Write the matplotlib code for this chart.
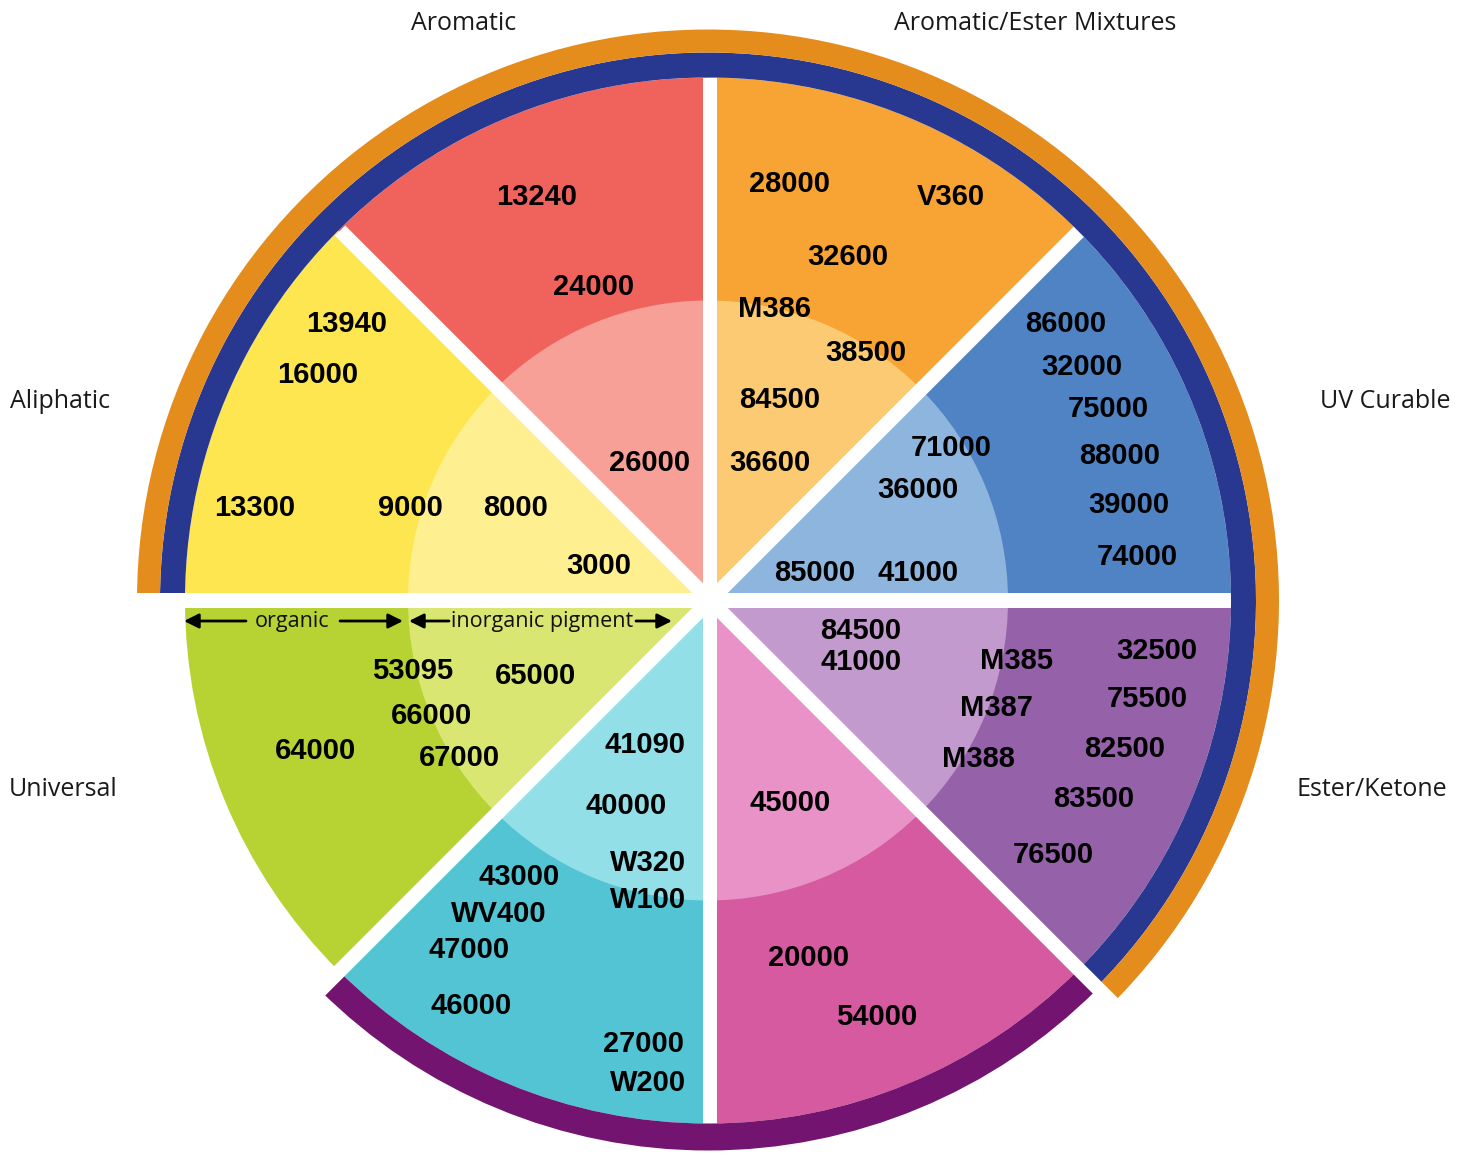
import numpy as np
import matplotlib
matplotlib.use("Agg")
import matplotlib.pyplot as plt
from matplotlib.patches import Wedge, Polygon

# sector names (clockwise from top) and their codes
sectors = ["Aromatic/Ester Mixtures", "UV Curable", "Ester/Ketone", "Water A",
           "Water B", "Universal", "Aliphatic", "Aromatic"]
sector_start = [45, 0, -45, -90, -135, 180, 135, 90]   # visual angle, deg

outer_colors = ["#F8A435", "#4F83C3", "#9561A8", "#D55A9F",
                "#52C4D3", "#B7D333", "#FEE651", "#F0635D"]
inner_colors = ["#FBCA72", "#8DB5DD", "#C39ACD", "#E892C7",
                "#92DFE8", "#D9E672", "#FEF090", "#F6A098"]

ester_mix_codes = ["28000", "V360", "32600", "M386", "38500", "84500", "36600"]
uv_codes = ["86000", "32000", "75000", "88000", "39000", "74000",
            "71000", "36000", "85000", "41000"]
ester_ketone_codes = ["84500", "41000", "M385", "32500", "75500", "M387",
                      "82500", "M388", "83500", "76500"]
pink_codes = ["45000", "20000", "54000"]
cyan_codes = ["41090", "40000", "W320", "43000", "W100", "WV400",
              "47000", "46000", "27000", "W200"]
universal_codes = ["53095", "65000", "66000", "64000", "67000"]
aliphatic_codes = ["13940", "16000", "13300", "9000", "8000", "3000"]
aromatic_codes = ["13240", "24000", "26000"]

# label positions in pixels (centre of text)
ester_mix_pos = [(789, 182), (951, 195), (848, 255), (775, 307), (866, 351),
                 (780, 398), (770, 461)]
uv_pos = [(1066, 322), (1082, 365), (1108, 407), (1120, 454), (1129, 503),
          (1137, 555), (951, 446), (918, 488), (815, 571), (918, 571)]
ester_ketone_pos = [(861, 629), (861, 660), (1016, 659), (1157, 649),
                    (1147, 697), (996, 706), (1125, 747), (978, 757),
                    (1094, 797), (1053, 853)]
pink_pos = [(790, 801), (809, 956), (877, 1015)]
cyan_pos = [(645, 743), (626, 804), (648, 861), (519, 875), (648, 898),
            (499, 912), (469, 948), (471, 1004), (643, 1042), (648, 1081)]
universal_pos = [(413, 669), (536, 674), (431, 714), (315, 749), (459, 756)]
aliphatic_pos = [(347, 322), (318, 373), (255, 506), (410, 506), (516, 506),
                 (599, 564)]
aromatic_pos = [(537, 195), (594, 285), (650, 461)]

category_labels = ["Aromatic", "Aromatic/Ester Mixtures", "Aliphatic",
                   "UV Curable", "Universal", "Ester/Ketone"]
category_pos = [(464, 20), (1035, 20), (60, 398), (1385, 398),
                (63, 787), (1372, 787)]

cx, cy = 708, 600.5
R_OUT = 523
R_IN = 300
GAP = 14.5

fig = plt.figure(figsize=(14.67, 11.56), dpi=100)
ax = fig.add_axes([0, 0, 1, 1])
ax.set_xlim(0, 1467)
ax.set_ylim(1156, 0)
ax.axis("off")


def wedge(r, a1, a2, color, width=None):
    # visual angles -> data angles (y axis is inverted)
    ax.add_patch(Wedge((cx, cy), r, -a2, -a1, width=width, facecolor=color,
                       edgecolor="none"))


def gap(ang, L):
    t = np.radians(ang)
    d = np.array([np.cos(t), -np.sin(t)])
    n = np.array([-d[1], d[0]]) * GAP / 2
    c = np.array([cx + 2, cy])
    pts = [c + n, c + L * d + n, c + L * d - n, c - n]
    ax.add_patch(Polygon(pts, closed=True, facecolor="white", edgecolor="none"))


for a, oc, ic in zip(sector_start, outer_colors, inner_colors):
    wedge(R_OUT, a, a + 45, oc)
    wedge(R_IN, a, a + 45, ic)

# white gaps between sectors
for ang in [90, 45, 0, -90, 135]:
    gap(ang, R_OUT)

# outer rings
wedge(548, -45, 180, "#283891", width=25)
wedge(571, -45, 180, "#E48D1D", width=23)
wedge(550, -135, -45, "#731470", width=27)

# gaps that also cut the rings
for ang in [-45, -135, 180]:
    gap(ang, 590)

all_codes = [ester_mix_codes, uv_codes, ester_ketone_codes, pink_codes,
             cyan_codes, universal_codes, aliphatic_codes, aromatic_codes]
all_pos = [ester_mix_pos, uv_pos, ester_ketone_pos, pink_pos, cyan_pos,
           universal_pos, aliphatic_pos, aromatic_pos]
for codes, pos in zip(all_codes, all_pos):
    for code, (x, y) in zip(codes, pos):
        ax.text(x, y + 10, code, ha="center", va="baseline", fontsize=21,
                fontweight="bold", family="Liberation Sans", color="black")

for lab, (x, y) in zip(category_labels, category_pos):
    ax.text(x, y + 3, lab, ha="center", va="center", fontsize=18,
            family="Open Sans", color="#1a1a1a")

# organic / inorganic pigment annotation
arrow = dict(arrowstyle="-|>", color="black", lw=2, mutation_scale=22,
             shrinkA=0, shrinkB=0)
ax.annotate("", xy=(184, 621), xytext=(246, 621), arrowprops=arrow)
ax.annotate("", xy=(403, 621), xytext=(340, 621), arrowprops=arrow)
ax.annotate("", xy=(409, 621), xytext=(449, 621), arrowprops=arrow)
ax.annotate("", xy=(672, 621), xytext=(636, 621), arrowprops=arrow)
ax.text(292, 621, "organic", ha="center", va="center", fontsize=15.5,
        family="Open Sans", color="#111111")
ax.text(542, 621, "inorganic pigment", ha="center", va="center", fontsize=15.5,
        family="Open Sans", color="#111111")

fig.savefig("out.png", dpi=100)
